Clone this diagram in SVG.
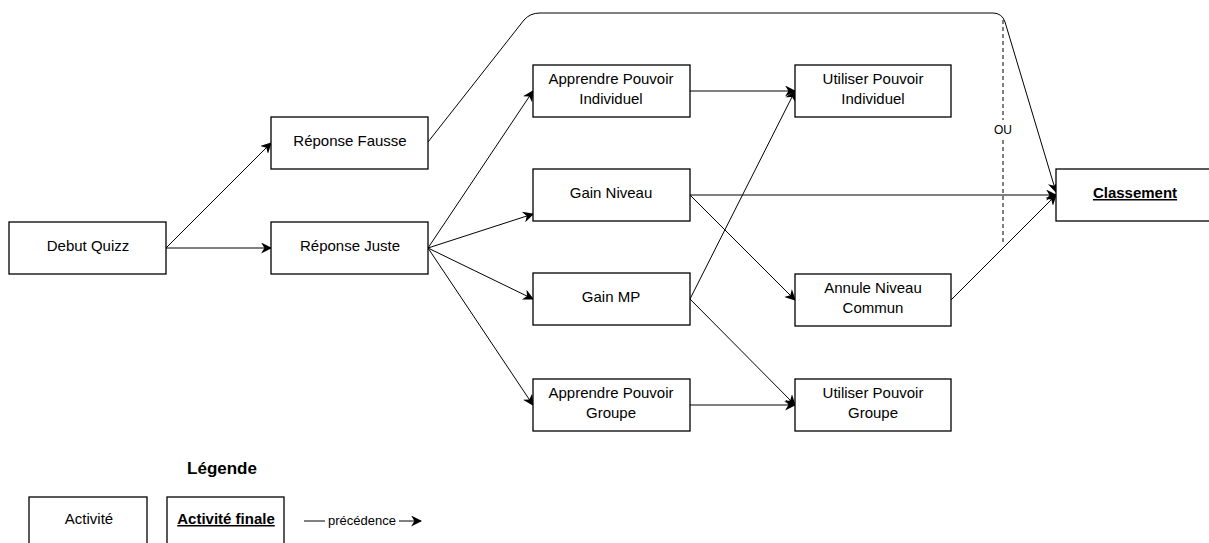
<svg xmlns="http://www.w3.org/2000/svg" width="1209" height="543" viewBox="0 0 1209 543">
<style>
.b{fill:#fff;stroke:#000;stroke-width:1.3}
.t{font-family:"Liberation Sans",Arial,sans-serif;font-size:15px;fill:#000;text-anchor:middle}
.f{font-weight:bold;text-decoration:underline}
.c{fill:none;stroke:#000;stroke-width:1}
</style>
<defs>
<marker id="a" viewBox="0 0 10 10" refX="9" refY="5" markerWidth="11" markerHeight="11" markerUnits="userSpaceOnUse" orient="auto">
<path d="M0,0 L10,5 L0,10 L3,5 Z" fill="#000"/>
</marker>
</defs>
<rect width="1209" height="543" fill="#fff"/>
<g id="connectors">
<path class="c" d="M166,248 L271,143" marker-end="url(#a)"/>
<path class="c" d="M166,248 L271,248" marker-end="url(#a)"/>
<path class="c" d="M428,248 L533,91" marker-end="url(#a)"/>
<path class="c" d="M428,248 L533,214" marker-end="url(#a)"/>
<path class="c" d="M428,248 L533,299" marker-end="url(#a)"/>
<path class="c" d="M428,248 L533,405" marker-end="url(#a)"/>
<path class="c" d="M690,91 L795,91" marker-end="url(#a)"/>
<path class="c" d="M690,405 L795,405" marker-end="url(#a)"/>
<path class="c" d="M690,195 L1056,195" marker-end="url(#a)"/>
<path class="c" d="M690,195 L795,300" marker-end="url(#a)"/>
<path class="c" d="M690,299 L795,91" marker-end="url(#a)"/>
<path class="c" d="M690,299 L795,405" marker-end="url(#a)"/>
<path class="c" d="M951,300 L1056,195" marker-end="url(#a)"/>
<path class="c" d="M428,142 L524,20 Q530,13 540,13 L993,13 Q1002,13 1005,22 L1056,192" marker-end="url(#a)"/>
<path class="c" d="M1003,20 L1003,120 M1003,140 L1003,245" stroke-dasharray="4,3"/>
<text class="t" x="1003" y="134" style="font-size:12px">OU</text>
</g>
<g id="debut"><rect class="b" x="9" y="222" width="157" height="52"/><text class="t" x="88" y="251">Debut Quizz</text></g>
<g id="fausse"><rect class="b" x="271" y="117" width="157" height="52"/><text class="t" x="350" y="146">Réponse Fausse</text></g>
<g id="juste"><rect class="b" x="271" y="222" width="157" height="52"/><text class="t" x="350" y="251">Réponse Juste</text></g>
<g id="api"><rect class="b" x="533" y="65" width="157" height="52"/><text class="t" x="611" y="84">Apprendre Pouvoir</text><text class="t" x="611" y="104">Individuel</text></g>
<g id="gainniveau"><rect class="b" x="533" y="169" width="157" height="52"/><text class="t" x="611" y="198">Gain Niveau</text></g>
<g id="gainmp"><rect class="b" x="533" y="273" width="157" height="52"/><text class="t" x="611" y="302">Gain MP</text></g>
<g id="apg"><rect class="b" x="533" y="379" width="157" height="52"/><text class="t" x="611" y="398">Apprendre Pouvoir</text><text class="t" x="611" y="418">Groupe</text></g>
<g id="upi"><rect class="b" x="795" y="65" width="156" height="52"/><text class="t" x="873" y="84">Utiliser Pouvoir</text><text class="t" x="873" y="104">Individuel</text></g>
<g id="annule"><rect class="b" x="795" y="274" width="156" height="52"/><text class="t" x="873" y="293">Annule Niveau</text><text class="t" x="873" y="313">Commun</text></g>
<g id="upg"><rect class="b" x="795" y="379" width="156" height="52"/><text class="t" x="873" y="398">Utiliser Pouvoir</text><text class="t" x="873" y="418">Groupe</text></g>
<g id="classement"><rect class="b" x="1056" y="169" width="160" height="52"/><text class="t f" x="1135" y="198">Classement</text></g>
<g id="legende">
<text class="t" x="222" y="474" style="font-weight:bold;font-size:17px">Légende</text>
<rect class="b" x="29" y="497" width="118" height="60"/><text class="t" x="89" y="524">Activité</text>
<rect class="b" x="167" y="497" width="117" height="60"/><text class="t f" x="226" y="524">Activité finale</text>
<path class="c" d="M304,521 L325,521"/>
<text class="t" x="362" y="525" style="font-size:13px">précédence</text>
<path class="c" d="M399,521 L421,521" marker-end="url(#a)"/>
</g>
</svg>
